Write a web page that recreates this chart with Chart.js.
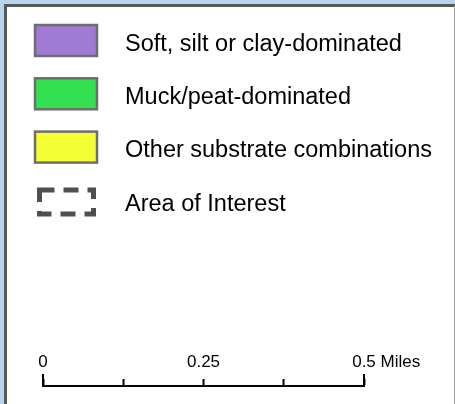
<!DOCTYPE html>
<html>
<head>
<meta charset="utf-8">
<script src="https://cdn.jsdelivr.net/npm/chart.js@4/dist/chart.umd.min.js"></script>
<style>
  html, body { margin: 0; padding: 0; }
  body { width: 455px; height: 404px; background: #b9d2ee; position: relative; overflow: hidden; }
  #frame {
    position: absolute; left: 4px; top: 4px; width: 447px; height: 410px;
    background: #fff; border-left: 3px solid #585858; border-top: 3px solid #585858;
    border-right: 1px solid #a8a8a8;
  }
  #legendChart { position: absolute; left: 0; top: 0; }
</style>
</head>
<body>
<div id="frame"></div>
<canvas id="legendChart" width="455" height="404"></canvas>
<script>
// Legend entries
const legendLabels = ['Soft, silt or clay-dominated', 'Muck/peat-dominated', 'Other substrate combinations', 'Area of Interest'];
const legendColors = ['#a07ad3', '#33e04f', '#f3ff33', 'transparent'];

// Scale bar (miles)
const scaleTicks = [0, 0.125, 0.25, 0.375, 0.5];
const scaleTickLabels = ['0', '', '0.25', '', '0.5'];
const scaleUnit = 'Miles';

const FONT = "'Liberation Sans', Arial, sans-serif";

// Draws the map legend rows from the datasets
const mapLegend = {
    id: 'mapLegend',
    afterDraw(chart) {
        const ctx = chart.ctx;
        ctx.save();
        chart.data.datasets.forEach((ds, i) => {
            const top = 24 + i * 53.3;
            if (ds.borderDash) {
                // dashed outline symbol
                ctx.setLineDash(ds.borderDash);
                ctx.lineWidth = 5;
                ctx.strokeStyle = ds.borderColor;
                ctx.strokeRect(39.5, top + 6, 54, 24);
                ctx.setLineDash([]);
            } else {
                ctx.fillStyle = ds.backgroundColor;
                ctx.fillRect(35, top + 1, 62, 31);
                ctx.lineWidth = 2.5;
                ctx.strokeStyle = ds.borderColor;
                ctx.strokeRect(35, top + 1, 62, 31);
            }
            ctx.fillStyle = '#000';
            ctx.font = '23.5px ' + FONT;
            ctx.textBaseline = 'alphabetic';
            ctx.textAlign = 'left';
            ctx.fillText(ds.label, 125, top + 26.7);
        });
        ctx.restore();
    }
};

// Long end ticks and unit text for the scale bar
const scaleBarExtras = {
    id: 'scaleBarExtras',
    afterDraw(chart) {
        const ctx = chart.ctx;
        const x = chart.scales.x;
        const base = chart.chartArea.top;
        ctx.save();
        ctx.fillStyle = '#000';
        [scaleTicks[0], scaleTicks[scaleTicks.length - 1]].forEach(v => {
            const px = Math.round(x.getPixelForValue(v));
            ctx.fillRect(px - 1, base - 12, 2, 13);
        });
        ctx.font = '17px ' + FONT;
        const last = scaleTickLabels[scaleTickLabels.length - 1];
        const px = x.getPixelForValue(scaleTicks[scaleTicks.length - 1]);
        ctx.textAlign = 'left';
        ctx.textBaseline = 'middle';
        ctx.fillText(' ' + scaleUnit, px + ctx.measureText(last).width / 2, base - 23.2);
        ctx.restore();
    }
};

new Chart(document.getElementById('legendChart'), {
    type: 'scatter',
    data: {
        datasets: legendLabels.map((label, i) => ({
            label: label,
            data: [],
            backgroundColor: legendColors[i],
            borderColor: i === 3 ? '#4f4f4f' : '#6e6e6e',
            borderDash: i === 3 ? [15, 9] : undefined
        }))
    },
    options: {
        responsive: false,
        animation: false,
        devicePixelRatio: 1,
        layout: { padding: { top: 353, left: 43, right: 91, bottom: 5 } },
        plugins: { legend: { display: false }, tooltip: { enabled: false } },
        scales: {
            x: {
                type: 'linear',
                position: 'top',
                min: 0,
                max: 0.5,
                afterBuildTicks: scale => { scale.ticks = scaleTicks.map(v => ({ value: v })); },
                afterFit: scale => { scale.height = 33; },
                ticks: {
                    callback: (value, index) => scaleTickLabels[index],
                    autoSkip: false,
                    maxRotation: 0,
                    padding: 6,
                    color: '#000',
                    font: { size: 17, family: FONT }
                },
                grid: { drawOnChartArea: false, tickLength: 7, tickWidth: 2, tickColor: '#000' },
                border: { display: true, color: '#000', width: 2 }
            },
            y: { display: false, min: 0, max: 1 }
        }
    },
    plugins: [mapLegend, scaleBarExtras]
});
</script>
</body>
</html>
